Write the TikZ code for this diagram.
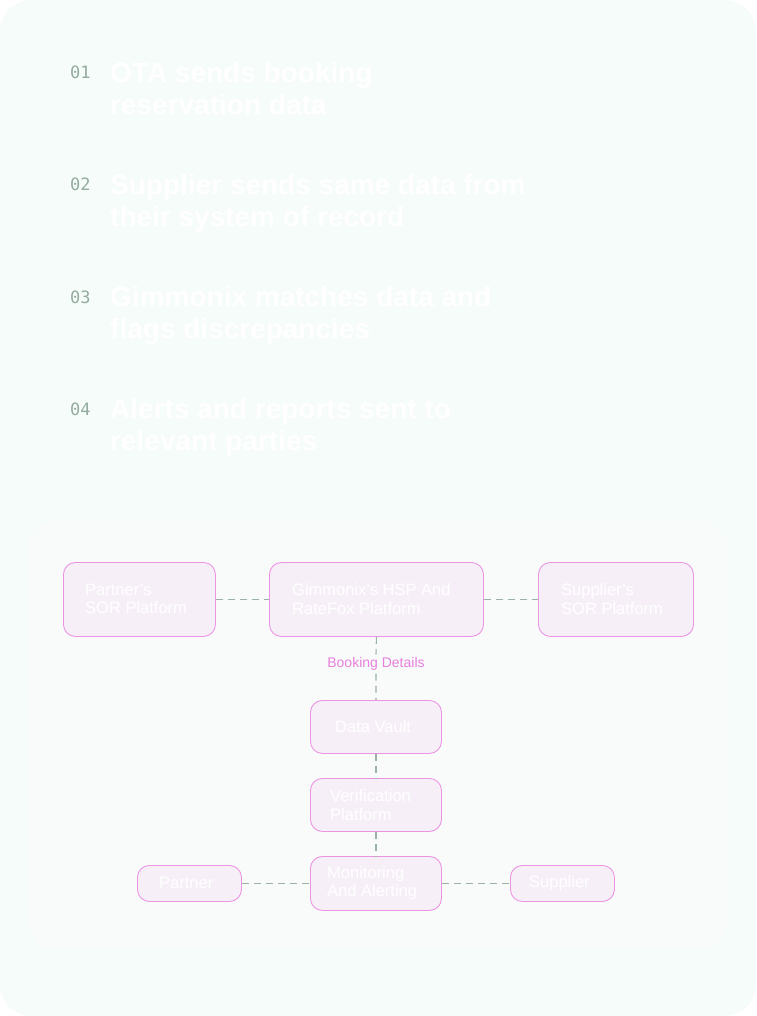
\documentclass[tikz,border=0pt]{standalone}
\usepackage{fontspec}
\setmainfont{Liberation Sans}
\newfontfamily\monof{DejaVu Sans Mono}
\definecolor{bgmint}{HTML}{F5FCF9}
\definecolor{panelc}{HTML}{F9FBFA}
\definecolor{boxfill}{HTML}{F7EFF8}
\definecolor{boxline}{HTML}{EC94E4}
\definecolor{pinktext}{HTML}{E77FDD}
\definecolor{numgrey}{HTML}{93AC9F}
\definecolor{dashgrey}{HTML}{9AB1A5}
\begin{document}
\begin{tikzpicture}[x=1pt,y=-1pt,
  pbox/.style={draw=boxline, line width=0.9pt, fill=boxfill, rounded corners=12pt, inner sep=0pt, anchor=north west},
  btext/.style={text=white, font=\fontsize{16.5}{18.5}\selectfont, align=left, anchor=west, inner sep=0pt},
  conn/.style={draw=dashgrey, line width=1.1pt, dash pattern=on 7pt off 5pt},
  numlab/.style={text=numgrey, font=\monof\fontsize{17}{20}\selectfont, anchor=base west, inner sep=0pt},
  head/.style={text=white, font=\bfseries\fontsize{28}{32}\selectfont, align=left, anchor=north west, inner sep=0pt}
]
\useasboundingbox (0,0) rectangle (756,1016);
\fill[white] (0,0) rectangle (756,1016);
\fill[bgmint, rounded corners=32pt] (0,0) rectangle (756,1016);
\fill[panelc, rounded corners=30pt] (28,520) rectangle (728,950);

% numbered steps
\node[numlab] (n1) at (70,79) {01};
\node[numlab] (n2) at (70,191) {02};
\node[numlab] (n3) at (70,303) {03};
\node[numlab] (n4) at (70,415) {04};
\node[head] (h1) at (110,62) {OTA sends booking\\reservation data};
\node[head] (h2) at (110,174) {Supplier sends same data from\\their system of record};
\node[head] (h3) at (110,286) {Gimmonix matches data and\\flags discrepancies};
\node[head] (h4) at (110,398) {Alerts and reports sent to\\relevant parties};

% boxes
\node[pbox, minimum width=152pt, minimum height=74pt] (psor) at (63,562) {};
\node[btext] at (85,599) {Partner's\\SOR Platform};
\node[pbox, minimum width=214pt, minimum height=74pt] (gim) at (269,562) {};
\node[btext] at (292,599) {Gimmonix's HSP And\\RateFox Platform};
\node[pbox, minimum width=155pt, minimum height=74pt] (ssor) at (538,562) {};
\node[btext] at (561,599) {Supplier's\\SOR Platform};

\node[pbox, minimum width=131pt, minimum height=53pt] (dv) at (310,700) {};
\node[btext] at (335,727) {Data Vault};
\node[pbox, minimum width=131pt, minimum height=53pt] (vp) at (310,778) {};
\node[btext] at (330,805) {Verification\\Platform};
\node[pbox, minimum width=131pt, minimum height=54pt] (ma) at (310,856) {};
\node[btext] at (327,883) {Monitoring\\And Alerting};

\node[pbox, minimum width=104pt, minimum height=36pt] (pa) at (137,865) {};
\node[btext] at (159,883) {Partner};
\node[pbox, minimum width=104pt, minimum height=36pt] (su) at (510,865) {};
\node[btext] at (529,883) {Supplier};

\node[text=pinktext, font=\fontsize{14}{16}\selectfont, inner sep=3pt] (bd) at (376,664) {Booking Details};

% connectors
\draw[conn] (psor.east) -- (gim.west);
\draw[conn] (gim.east) -- (ssor.west);
\draw[conn] (gim.south) -- (bd.north);
\draw[conn] (bd.south) -- (dv.north);
\draw[conn] (dv.south) -- (vp.north);
\draw[conn] (vp.south) -- (ma.north);
\draw[conn] (pa.east) -- (ma.west);
\draw[conn] (ma.east) -- (su.west);
\end{tikzpicture}
\end{document}
